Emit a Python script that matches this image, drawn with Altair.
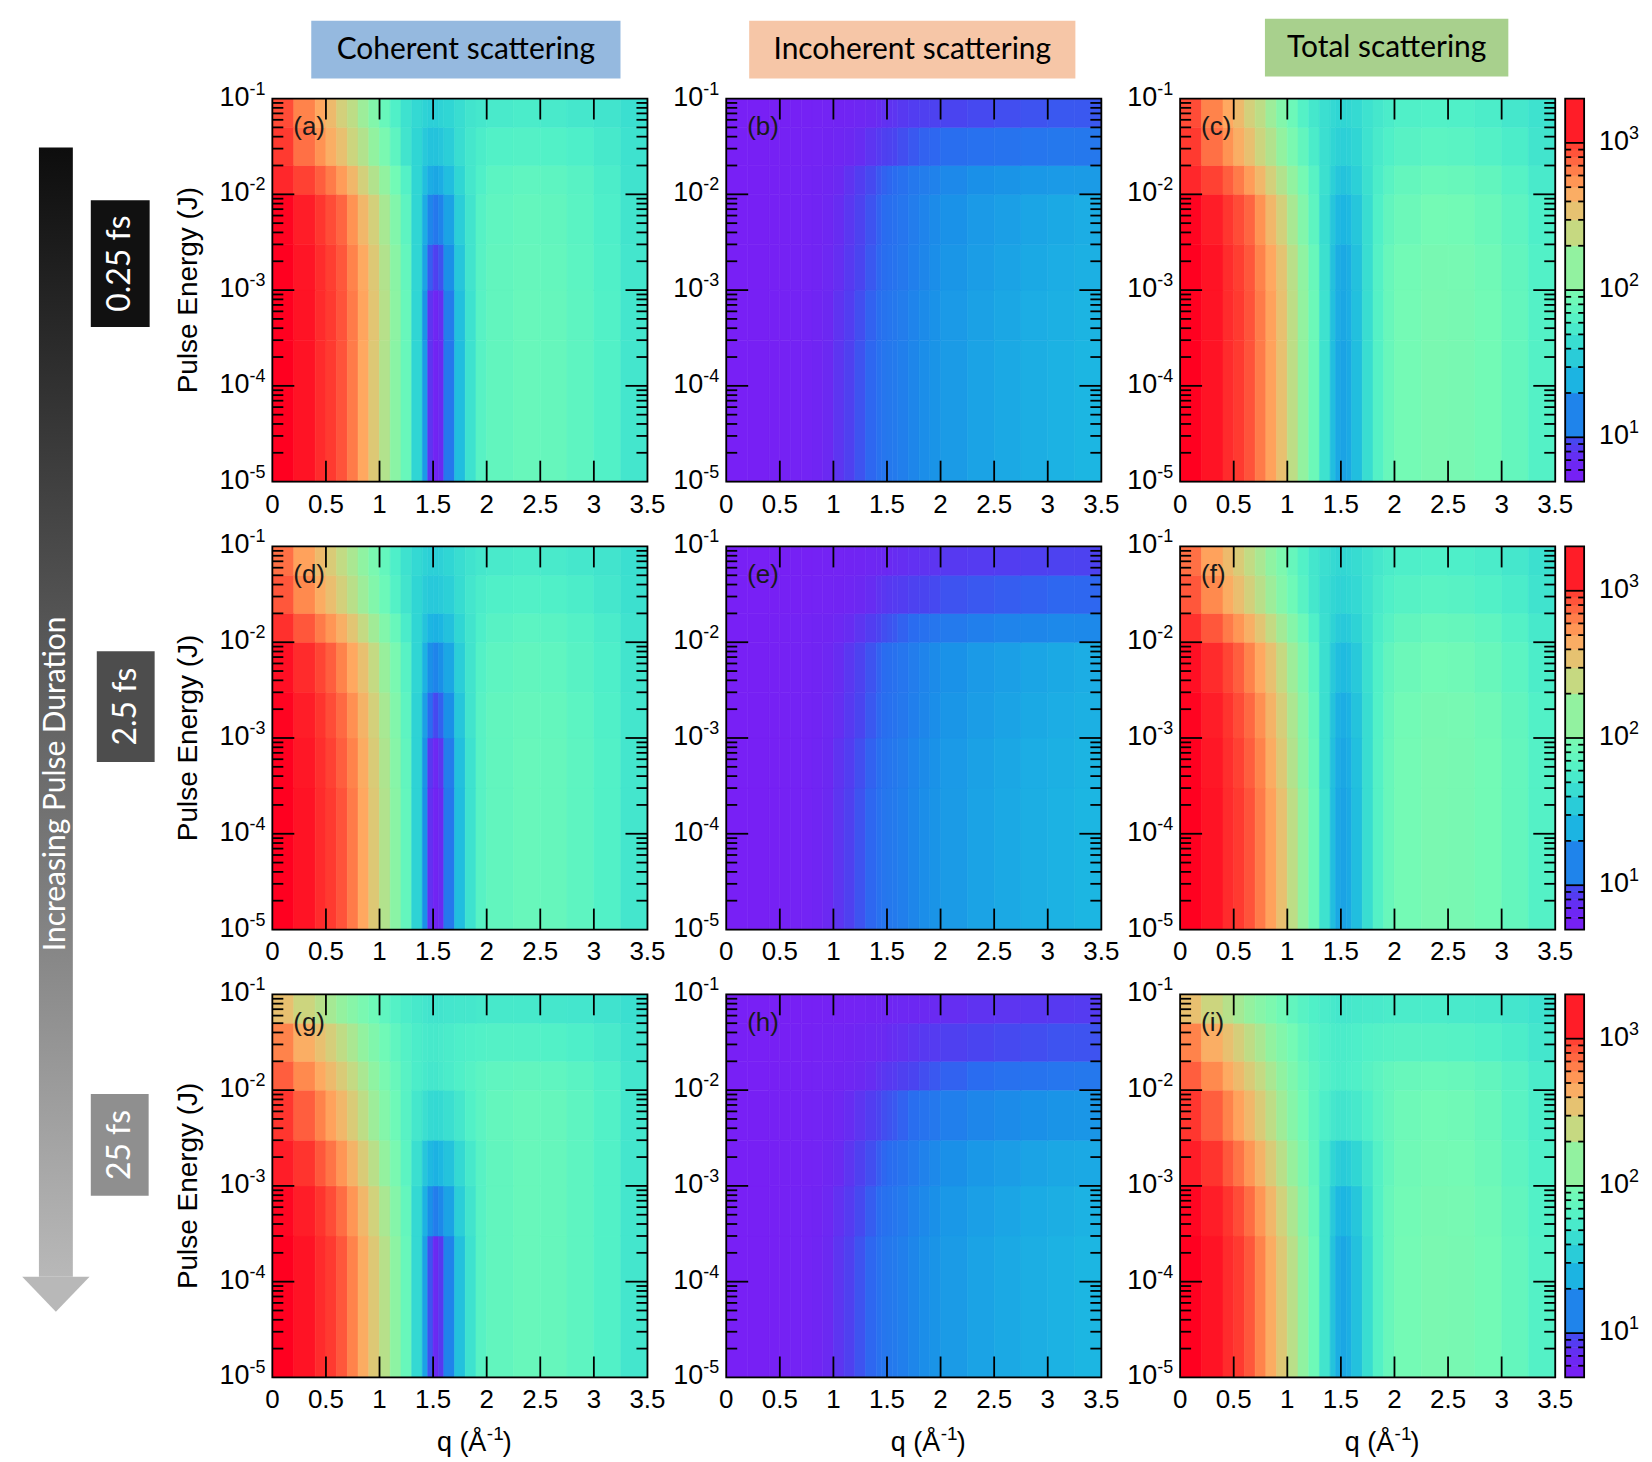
import altair as alt
import pandas as pd

# ---------------- data ----------------
# q cell edges (Å^-1) and pulse-energy band edges (J)
Q_EDGES = [0, 0.2, 0.4, 0.5, 0.6, 0.7, 0.8, 0.9, 1.0, 1.1, 1.2, 1.3, 1.4, 1.45, 1.5,
           1.55, 1.6, 1.7, 1.8, 1.9, 2.0, 2.25, 2.5, 2.75, 3.0, 3.25, 3.5]
E_EDGES = [1e-5, 3e-4, 1e-3, 3e-3, 1e-2, 2e-2, 5e-2, 1e-1]

# log10(intensity) per energy band (lowest band first), one value per q cell
A_ROWS = [
    [3.3, 3.2, 3.08, 3.0, 2.93, 2.82, 2.68, 2.5, 2.3, 2.1, 1.9, 1.6, 1.25, 0.9, 0.78, 0.85, 1.1, 1.45, 1.68, 1.82, 1.87, 1.9, 1.89, 1.85, 1.79, 1.71],
    [3.3, 3.2, 3.08, 3.0, 2.93, 2.82, 2.69, 2.52, 2.32, 2.12, 1.9, 1.6, 1.22, 0.9, 0.8, 0.87, 1.12, 1.46, 1.68, 1.82, 1.87, 1.9, 1.89, 1.85, 1.79, 1.71],
    [3.3, 3.19, 3.07, 2.99, 2.92, 2.8, 2.67, 2.5, 2.3, 2.1, 1.88, 1.6, 1.3, 1.02, 0.95, 1.0, 1.2, 1.5, 1.7, 1.82, 1.87, 1.89, 1.88, 1.84, 1.78, 1.71],
    [3.28, 3.15, 3.02, 2.95, 2.88, 2.75, 2.6, 2.45, 2.25, 2.05, 1.85, 1.6, 1.35, 1.16, 1.1, 1.15, 1.3, 1.55, 1.7, 1.81, 1.86, 1.88, 1.87, 1.83, 1.77, 1.7],
    [3.1, 2.98, 2.9, 2.82, 2.72, 2.6, 2.45, 2.3, 2.15, 1.95, 1.8, 1.6, 1.45, 1.35, 1.32, 1.35, 1.45, 1.6, 1.72, 1.78, 1.84, 1.86, 1.85, 1.82, 1.76, 1.69],
    [3.0, 2.85, 2.75, 2.65, 2.55, 2.42, 2.3, 2.15, 2.0, 1.85, 1.7, 1.6, 1.52, 1.48, 1.48, 1.5, 1.55, 1.65, 1.72, 1.76, 1.79, 1.8, 1.79, 1.77, 1.73, 1.68],
    [2.95, 2.8, 2.68, 2.58, 2.45, 2.35, 2.2, 2.05, 1.9, 1.78, 1.68, 1.62, 1.58, 1.56, 1.56, 1.58, 1.6, 1.65, 1.7, 1.72, 1.74, 1.75, 1.74, 1.72, 1.7, 1.66],
]
B_ROWS = [
    [0.72, 0.73, 0.74, 0.75, 0.76, 0.77, 0.79, 0.84, 0.9, 0.95, 1.0, 1.04, 1.07, 1.09, 1.1, 1.11, 1.13, 1.16, 1.19, 1.22, 1.26, 1.3, 1.33, 1.36, 1.38, 1.4],
    [0.72, 0.73, 0.74, 0.75, 0.76, 0.77, 0.79, 0.83, 0.89, 0.94, 0.99, 1.03, 1.06, 1.08, 1.09, 1.1, 1.12, 1.15, 1.18, 1.21, 1.25, 1.29, 1.32, 1.35, 1.37, 1.39],
    [0.72, 0.73, 0.74, 0.75, 0.76, 0.77, 0.78, 0.82, 0.87, 0.92, 0.97, 1.01, 1.04, 1.06, 1.07, 1.08, 1.1, 1.13, 1.16, 1.19, 1.23, 1.27, 1.3, 1.33, 1.35, 1.37],
    [0.72, 0.73, 0.74, 0.75, 0.76, 0.77, 0.78, 0.81, 0.86, 0.91, 0.96, 1.0, 1.03, 1.05, 1.06, 1.07, 1.09, 1.12, 1.15, 1.18, 1.21, 1.25, 1.28, 1.31, 1.33, 1.35],
    [0.72, 0.73, 0.74, 0.75, 0.76, 0.77, 0.78, 0.8, 0.84, 0.89, 0.94, 0.98, 1.01, 1.03, 1.04, 1.05, 1.07, 1.1, 1.12, 1.14, 1.17, 1.2, 1.22, 1.24, 1.25, 1.26],
    [0.72, 0.73, 0.74, 0.75, 0.75, 0.76, 0.77, 0.78, 0.8, 0.83, 0.86, 0.9, 0.93, 0.95, 0.96, 0.97, 0.99, 1.01, 1.03, 1.04, 1.06, 1.07, 1.08, 1.09, 1.1, 1.1],
    [0.72, 0.72, 0.73, 0.74, 0.74, 0.75, 0.76, 0.77, 0.78, 0.79, 0.81, 0.84, 0.86, 0.88, 0.89, 0.9, 0.92, 0.94, 0.95, 0.96, 0.97, 0.98, 0.99, 1.0, 1.01, 1.01],
]
C_ROWS = [
    [3.3, 3.2, 3.08, 3.0, 2.93, 2.82, 2.7, 2.55, 2.35, 2.15, 1.92, 1.68, 1.45, 1.33, 1.3, 1.33, 1.45, 1.65, 1.8, 1.9, 1.96, 2.0, 1.99, 1.95, 1.88, 1.8],
    [3.3, 3.2, 3.08, 3.0, 2.93, 2.82, 2.7, 2.55, 2.35, 2.15, 1.92, 1.68, 1.46, 1.35, 1.32, 1.35, 1.46, 1.65, 1.8, 1.9, 1.96, 2.0, 1.99, 1.95, 1.88, 1.8],
    [3.3, 3.2, 3.07, 2.99, 2.92, 2.8, 2.68, 2.53, 2.33, 2.13, 1.9, 1.67, 1.47, 1.36, 1.33, 1.36, 1.47, 1.65, 1.8, 1.9, 1.95, 1.99, 1.98, 1.94, 1.87, 1.79],
    [3.28, 3.15, 3.02, 2.95, 2.88, 2.75, 2.6, 2.45, 2.25, 2.05, 1.85, 1.65, 1.5, 1.42, 1.4, 1.42, 1.5, 1.65, 1.78, 1.87, 1.92, 1.96, 1.95, 1.91, 1.85, 1.77],
    [3.1, 2.98, 2.9, 2.82, 2.72, 2.6, 2.45, 2.3, 2.15, 1.97, 1.82, 1.67, 1.56, 1.5, 1.48, 1.5, 1.56, 1.67, 1.76, 1.83, 1.88, 1.91, 1.9, 1.87, 1.81, 1.74],
    [3.0, 2.85, 2.75, 2.65, 2.55, 2.42, 2.3, 2.15, 2.0, 1.87, 1.75, 1.66, 1.6, 1.57, 1.56, 1.57, 1.6, 1.68, 1.74, 1.78, 1.82, 1.84, 1.83, 1.8, 1.76, 1.7],
    [2.95, 2.8, 2.68, 2.58, 2.45, 2.35, 2.2, 2.05, 1.92, 1.8, 1.72, 1.66, 1.62, 1.6, 1.6, 1.61, 1.63, 1.68, 1.72, 1.75, 1.78, 1.79, 1.78, 1.76, 1.72, 1.68],
]
D_ROWS = [
    [3.3, 3.2, 3.08, 3.0, 2.93, 2.82, 2.68, 2.5, 2.3, 2.1, 1.88, 1.58, 1.2, 0.88, 0.78, 0.85, 1.1, 1.45, 1.68, 1.82, 1.87, 1.9, 1.89, 1.85, 1.79, 1.71],
    [3.3, 3.18, 3.06, 2.98, 2.9, 2.8, 2.66, 2.48, 2.28, 2.08, 1.87, 1.58, 1.22, 0.92, 0.82, 0.9, 1.12, 1.46, 1.68, 1.82, 1.87, 1.9, 1.89, 1.85, 1.79, 1.71],
    [3.28, 3.15, 3.03, 2.95, 2.87, 2.76, 2.62, 2.45, 2.25, 2.05, 1.85, 1.58, 1.28, 1.05, 0.98, 1.03, 1.2, 1.5, 1.7, 1.82, 1.87, 1.89, 1.88, 1.84, 1.78, 1.71],
    [3.22, 3.08, 2.97, 2.9, 2.8, 2.68, 2.55, 2.38, 2.18, 2.0, 1.82, 1.6, 1.38, 1.2, 1.15, 1.2, 1.32, 1.55, 1.7, 1.8, 1.85, 1.87, 1.86, 1.82, 1.77, 1.7],
    [3.05, 2.92, 2.82, 2.74, 2.64, 2.52, 2.38, 2.22, 2.05, 1.9, 1.75, 1.6, 1.48, 1.4, 1.38, 1.4, 1.47, 1.6, 1.7, 1.77, 1.82, 1.84, 1.83, 1.8, 1.75, 1.69],
    [2.92, 2.78, 2.66, 2.56, 2.45, 2.33, 2.2, 2.05, 1.92, 1.8, 1.7, 1.6, 1.54, 1.52, 1.52, 1.53, 1.56, 1.64, 1.71, 1.75, 1.78, 1.79, 1.78, 1.76, 1.72, 1.67],
    [2.85, 2.7, 2.58, 2.48, 2.37, 2.26, 2.13, 2.0, 1.88, 1.77, 1.68, 1.62, 1.58, 1.56, 1.56, 1.57, 1.6, 1.65, 1.69, 1.72, 1.74, 1.75, 1.74, 1.72, 1.7, 1.66],
]
E_ROWS = [
    [0.72, 0.73, 0.74, 0.75, 0.76, 0.77, 0.79, 0.84, 0.9, 0.95, 1.0, 1.04, 1.07, 1.09, 1.1, 1.11, 1.13, 1.16, 1.19, 1.22, 1.26, 1.3, 1.33, 1.36, 1.38, 1.4],
    [0.72, 0.73, 0.74, 0.75, 0.76, 0.77, 0.79, 0.83, 0.89, 0.94, 0.99, 1.03, 1.06, 1.08, 1.09, 1.1, 1.12, 1.15, 1.18, 1.21, 1.25, 1.29, 1.32, 1.35, 1.37, 1.39],
    [0.72, 0.73, 0.74, 0.75, 0.76, 0.77, 0.78, 0.82, 0.87, 0.92, 0.97, 1.01, 1.04, 1.06, 1.07, 1.08, 1.1, 1.13, 1.16, 1.19, 1.23, 1.27, 1.3, 1.33, 1.35, 1.37],
    [0.72, 0.73, 0.74, 0.75, 0.76, 0.77, 0.78, 0.81, 0.86, 0.91, 0.96, 1.0, 1.03, 1.05, 1.06, 1.07, 1.09, 1.12, 1.15, 1.18, 1.21, 1.25, 1.28, 1.31, 1.33, 1.35],
    [0.72, 0.73, 0.74, 0.75, 0.76, 0.77, 0.78, 0.79, 0.82, 0.86, 0.9, 0.94, 0.97, 0.99, 1.0, 1.01, 1.03, 1.05, 1.07, 1.09, 1.11, 1.13, 1.15, 1.16, 1.17, 1.17],
    [0.72, 0.72, 0.73, 0.74, 0.74, 0.75, 0.76, 0.77, 0.78, 0.8, 0.83, 0.86, 0.89, 0.91, 0.92, 0.93, 0.94, 0.96, 0.97, 0.98, 1.0, 1.01, 1.02, 1.03, 1.04, 1.04],
    [0.72, 0.72, 0.73, 0.73, 0.74, 0.74, 0.75, 0.76, 0.77, 0.78, 0.79, 0.81, 0.83, 0.84, 0.85, 0.86, 0.87, 0.88, 0.89, 0.9, 0.92, 0.93, 0.94, 0.95, 0.96, 0.96],
]
F_ROWS = [
    [3.3, 3.2, 3.08, 3.0, 2.93, 2.82, 2.7, 2.55, 2.35, 2.15, 1.92, 1.68, 1.45, 1.33, 1.3, 1.33, 1.45, 1.65, 1.8, 1.9, 1.96, 2.0, 1.99, 1.95, 1.88, 1.8],
    [3.3, 3.18, 3.06, 2.98, 2.9, 2.8, 2.66, 2.5, 2.3, 2.1, 1.9, 1.66, 1.46, 1.35, 1.32, 1.35, 1.46, 1.65, 1.8, 1.9, 1.96, 2.0, 1.99, 1.95, 1.88, 1.8],
    [3.28, 3.15, 3.03, 2.95, 2.87, 2.76, 2.62, 2.46, 2.27, 2.08, 1.88, 1.66, 1.48, 1.38, 1.35, 1.38, 1.48, 1.65, 1.79, 1.89, 1.95, 1.99, 1.98, 1.94, 1.87, 1.79],
    [3.22, 3.08, 2.97, 2.9, 2.8, 2.68, 2.55, 2.39, 2.2, 2.02, 1.84, 1.66, 1.52, 1.45, 1.43, 1.45, 1.52, 1.66, 1.78, 1.87, 1.92, 1.95, 1.94, 1.9, 1.84, 1.76],
    [3.05, 2.92, 2.82, 2.74, 2.64, 2.52, 2.38, 2.23, 2.07, 1.92, 1.78, 1.66, 1.58, 1.53, 1.52, 1.53, 1.58, 1.67, 1.76, 1.82, 1.87, 1.9, 1.89, 1.86, 1.8, 1.73],
    [2.92, 2.78, 2.66, 2.56, 2.45, 2.33, 2.2, 2.06, 1.93, 1.82, 1.72, 1.65, 1.61, 1.59, 1.59, 1.6, 1.62, 1.68, 1.74, 1.78, 1.81, 1.83, 1.82, 1.79, 1.75, 1.69],
    [2.85, 2.7, 2.58, 2.48, 2.37, 2.26, 2.13, 2.01, 1.89, 1.79, 1.71, 1.66, 1.63, 1.61, 1.61, 1.62, 1.64, 1.68, 1.72, 1.75, 1.77, 1.78, 1.77, 1.75, 1.72, 1.67],
]
G_ROWS = [
    [3.3, 3.2, 3.08, 3.0, 2.92, 2.8, 2.66, 2.5, 2.32, 2.12, 1.9, 1.62, 1.3, 1.0, 0.85, 0.92, 1.15, 1.47, 1.68, 1.82, 1.87, 1.9, 1.89, 1.85, 1.79, 1.71],
    [3.27, 3.15, 3.03, 2.95, 2.86, 2.74, 2.6, 2.44, 2.26, 2.07, 1.88, 1.62, 1.38, 1.2, 1.12, 1.17, 1.3, 1.55, 1.7, 1.82, 1.87, 1.9, 1.89, 1.85, 1.79, 1.71],
    [3.15, 3.03, 2.92, 2.84, 2.74, 2.62, 2.48, 2.33, 2.16, 2.0, 1.84, 1.66, 1.5, 1.42, 1.38, 1.41, 1.48, 1.62, 1.73, 1.82, 1.87, 1.9, 1.89, 1.85, 1.79, 1.71],
    [3.02, 2.9, 2.8, 2.7, 2.6, 2.48, 2.35, 2.2, 2.06, 1.93, 1.82, 1.72, 1.66, 1.63, 1.62, 1.63, 1.66, 1.72, 1.79, 1.84, 1.88, 1.9, 1.89, 1.85, 1.79, 1.71],
    [2.9, 2.78, 2.67, 2.58, 2.48, 2.38, 2.26, 2.13, 2.0, 1.9, 1.82, 1.76, 1.73, 1.72, 1.72, 1.73, 1.75, 1.78, 1.81, 1.84, 1.86, 1.87, 1.86, 1.83, 1.78, 1.71],
    [2.8, 2.65, 2.55, 2.46, 2.36, 2.26, 2.15, 2.04, 1.94, 1.86, 1.8, 1.76, 1.74, 1.73, 1.73, 1.74, 1.75, 1.77, 1.78, 1.79, 1.8, 1.8, 1.79, 1.77, 1.74, 1.69],
    [2.55, 2.42, 2.32, 2.24, 2.16, 2.08, 2.0, 1.93, 1.86, 1.8, 1.76, 1.73, 1.71, 1.7, 1.7, 1.7, 1.71, 1.72, 1.72, 1.73, 1.73, 1.73, 1.72, 1.71, 1.69, 1.66],
]
H_ROWS = [
    [0.72, 0.73, 0.74, 0.75, 0.76, 0.77, 0.79, 0.84, 0.9, 0.95, 1.0, 1.04, 1.07, 1.09, 1.1, 1.11, 1.13, 1.16, 1.19, 1.22, 1.26, 1.3, 1.33, 1.36, 1.38, 1.4],
    [0.72, 0.73, 0.74, 0.75, 0.76, 0.77, 0.78, 0.82, 0.88, 0.93, 0.98, 1.02, 1.05, 1.07, 1.08, 1.09, 1.11, 1.14, 1.17, 1.2, 1.24, 1.28, 1.31, 1.34, 1.36, 1.38],
    [0.72, 0.73, 0.74, 0.75, 0.75, 0.76, 0.77, 0.8, 0.85, 0.9, 0.95, 0.99, 1.02, 1.04, 1.05, 1.06, 1.08, 1.11, 1.14, 1.17, 1.2, 1.24, 1.27, 1.3, 1.32, 1.33],
    [0.72, 0.73, 0.74, 0.74, 0.75, 0.76, 0.77, 0.78, 0.81, 0.86, 0.9, 0.94, 0.97, 0.99, 1.0, 1.01, 1.03, 1.06, 1.08, 1.1, 1.13, 1.16, 1.18, 1.2, 1.22, 1.23],
    [0.72, 0.72, 0.73, 0.74, 0.74, 0.75, 0.76, 0.77, 0.78, 0.8, 0.83, 0.86, 0.89, 0.91, 0.92, 0.93, 0.95, 0.97, 0.99, 1.01, 1.03, 1.05, 1.07, 1.08, 1.09, 1.1],
    [0.72, 0.72, 0.73, 0.73, 0.74, 0.74, 0.75, 0.76, 0.77, 0.78, 0.8, 0.82, 0.84, 0.85, 0.86, 0.87, 0.88, 0.9, 0.92, 0.93, 0.95, 0.97, 0.98, 0.99, 1.0, 1.0],
    [0.72, 0.72, 0.72, 0.73, 0.73, 0.74, 0.74, 0.75, 0.75, 0.76, 0.77, 0.78, 0.79, 0.8, 0.8, 0.81, 0.82, 0.83, 0.84, 0.85, 0.87, 0.89, 0.9, 0.91, 0.92, 0.93],
]
I_ROWS = [
    [3.3, 3.2, 3.08, 3.0, 2.92, 2.8, 2.66, 2.5, 2.33, 2.14, 1.93, 1.7, 1.48, 1.36, 1.32, 1.36, 1.47, 1.65, 1.8, 1.9, 1.96, 2.0, 1.99, 1.95, 1.88, 1.8],
    [3.27, 3.15, 3.03, 2.95, 2.86, 2.74, 2.6, 2.44, 2.27, 2.09, 1.9, 1.7, 1.52, 1.42, 1.4, 1.42, 1.5, 1.67, 1.8, 1.9, 1.95, 1.99, 1.98, 1.94, 1.87, 1.79],
    [3.15, 3.03, 2.92, 2.84, 2.74, 2.62, 2.48, 2.33, 2.17, 2.02, 1.87, 1.72, 1.6, 1.55, 1.53, 1.55, 1.6, 1.7, 1.8, 1.88, 1.94, 1.97, 1.96, 1.92, 1.85, 1.78],
    [3.02, 2.9, 2.8, 2.7, 2.6, 2.48, 2.35, 2.21, 2.07, 1.95, 1.85, 1.77, 1.72, 1.7, 1.7, 1.71, 1.73, 1.78, 1.84, 1.89, 1.93, 1.95, 1.94, 1.9, 1.83, 1.76],
    [2.9, 2.78, 2.67, 2.58, 2.48, 2.38, 2.26, 2.14, 2.02, 1.92, 1.85, 1.8, 1.77, 1.76, 1.76, 1.77, 1.78, 1.82, 1.85, 1.88, 1.9, 1.91, 1.9, 1.87, 1.82, 1.75],
    [2.8, 2.65, 2.55, 2.46, 2.36, 2.26, 2.15, 2.05, 1.96, 1.88, 1.82, 1.78, 1.76, 1.75, 1.75, 1.76, 1.77, 1.79, 1.8, 1.81, 1.82, 1.82, 1.81, 1.79, 1.76, 1.71],
    [2.55, 2.42, 2.32, 2.24, 2.16, 2.08, 2.01, 1.94, 1.87, 1.82, 1.78, 1.75, 1.73, 1.72, 1.72, 1.72, 1.73, 1.74, 1.74, 1.75, 1.75, 1.75, 1.74, 1.73, 1.71, 1.68],
]

# axes / tick values
Q_TICKS = [0.5, 1.0, 1.5, 2.0, 2.5, 3.0]
Q_LABELS = [0, 0.5, 1, 1.5, 2, 2.5, 3, 3.5]
Q_LABEL_TEXT = ["0", "0.5", "1", "1.5", "2", "2.5", "3", "3.5"]
E_MAJOR = [1e-4, 1e-3, 1e-2]
E_MINOR = [2e-5, 3e-5, 4e-5, 5e-5, 6e-5, 7e-5, 8e-5, 9e-5,
           2e-4, 3e-4, 4e-4, 5e-4, 6e-4, 7e-4, 8e-4, 9e-4,
           2e-3, 3e-3, 4e-3, 5e-3, 6e-3, 7e-3, 8e-3, 9e-3,
           2e-2, 3e-2, 4e-2, 5e-2, 6e-2, 7e-2, 8e-2, 9e-2]
E_LABELS = [1e-5, 1e-4, 1e-3, 1e-2, 1e-1]
E_EXPS = ["-5", "-4", "-3", "-2", "-1"]
CB_EDGES = [5, 6, 7, 8, 9, 10, 20, 30, 40, 50, 60, 70, 80, 90, 100,
            200, 300, 400, 500, 600, 700, 800, 900, 1000, 2000]
CB_MAJOR = [10, 100, 1000]
CB_EXPS = ["1", "2", "3"]
CB_MINOR = [6, 7, 8, 9, 20, 30, 40, 50, 60, 70, 80, 90,
            200, 300, 400, 500, 600, 700, 800, 900]

# colour map (log10 intensity -> colour)
C_DOM = [0.7, 0.85, 0.97, 1.05, 1.2, 1.4, 1.6, 1.78, 1.95, 2.15, 2.4, 2.55, 2.68, 2.78, 2.9, 3.0, 3.3]
C_RNG = ["#7a1ef5", "#6a2af2", "#4a44f0", "#2a6cf0", "#1a90e8", "#1cb6e2", "#30d6d4", "#50f0c8",
         "#72fab6", "#92f2a0", "#c8d880", "#e8c070", "#ffa860", "#ff8a4e", "#ff5e3e", "#ff3a30", "#ff0020"]

# ---------------- chart construction ----------------
FONT = "Liberation Sans"
SANS2 = "Lato"
W, H = 376, 384
xs = alt.Scale(domain=[0, 3.5], nice=False, zero=False)
ys = alt.Scale(type="log", domain=[1e-5, 1e-1], nice=False)
cbs = alt.Scale(type="log", domain=[5, 2000], nice=False)
cs = alt.Scale(domain=C_DOM, range=C_RNG, clamp=True, interpolate="rgb")
ONE = pd.DataFrame({"k": [0]})


def heat_df(rows):
    assert len(rows) == len(E_EDGES) - 1
    recs = []
    for i, row in enumerate(rows):
        assert len(row) == len(Q_EDGES) - 1
        for j, v in enumerate(row):
            recs.append({"q0": Q_EDGES[j], "q1": Q_EDGES[j + 1],
                         "e0": E_EDGES[i], "e1": E_EDGES[i + 1], "v": v})
    return pd.DataFrame(recs)


def txt(text, x, y, size, color="black", font=FONT, align="center", angle=0, baseline="middle"):
    props = dict(text=text, fontSize=size, font=font, color=color, align=align, baseline=baseline)
    if angle:
        props["angle"] = angle
    return alt.Chart(ONE).mark_text(**props).encode(x=alt.value(x), y=alt.value(y))


def box(x0, x1, y0, y1, fill):
    return alt.Chart(ONE).mark_rect(color=fill).encode(
        x=alt.value(x0), x2=alt.value(x1), y=alt.value(y0), y2=alt.value(y1))


def frame(x0, x1, y0, y1):
    return alt.Chart(ONE).mark_rect(fillOpacity=0, stroke="black", strokeWidth=1.8).encode(
        x=alt.value(x0), x2=alt.value(x1), y=alt.value(y0), y2=alt.value(y1))


def yrule(vals, x0, x1, scale):
    return alt.Chart(pd.DataFrame({"e": vals})).mark_rule(color="black", strokeWidth=1.8).encode(
        y=alt.Y("e:Q", scale=scale, axis=None), x=alt.value(x0), x2=alt.value(x1))


def xrule(vals, y0, y1):
    return alt.Chart(pd.DataFrame({"q": vals})).mark_rule(color="black", strokeWidth=1.8).encode(
        x=alt.X("q:Q", scale=xs, axis=None), y=alt.value(y0), y2=alt.value(y1))


def log_labels(vals, exps, scale, x_ten, align_ten, x_sup):
    d = pd.DataFrame({"e": vals, "exp": exps})
    ten = alt.Chart(d).mark_text(text="10", align=align_ten, baseline="alphabetic", dy=7,
                                 font=FONT, fontSize=27, color="black").encode(
        y=alt.Y("e:Q", scale=scale, axis=None), x=alt.value(x_ten))
    sup = alt.Chart(d).mark_text(align="left", baseline="alphabetic", dy=-4,
                                 font=FONT, fontSize=18, color="black").encode(
        y=alt.Y("e:Q", scale=scale, axis=None), x=alt.value(x_sup), text="exp:N")
    return [ten, sup]


def panel(rows, letter, bottom=False, left=False, colorbar=False, header=None, deco=False):
    heat = alt.Chart(heat_df(rows)).mark_rect(strokeWidth=0.6).encode(
        x=alt.X("q0:Q", scale=xs, axis=None), x2="q1:Q",
        y=alt.Y("e0:Q", scale=ys, axis=None), y2="e1:Q",
        color=alt.Color("v:Q", scale=cs, legend=None),
        stroke=alt.Stroke("v:Q", scale=cs, legend=None))
    xlab = alt.Chart(pd.DataFrame({"q": Q_LABELS, "lab": Q_LABEL_TEXT})).mark_text(
        baseline="alphabetic", font=FONT, fontSize=26, color="black").encode(
        x=alt.X("q:Q", scale=xs, axis=None), y=alt.value(H + 31), text="lab:N")
    layers = [heat,
              xrule(Q_TICKS, H, H - 21), xrule(Q_TICKS, 0, 21),
              yrule(E_MAJOR, 0, 22, ys), yrule(E_MINOR, 0, 11, ys),
              yrule(E_MAJOR, W, W - 22, ys), yrule(E_MINOR, W, W - 11, ys),
              frame(0, W, 0, H),
              txt(letter, 21, 29, 26, color="#1a1a1a", align="left"),
              xlab]
    layers += log_labels(E_LABELS, E_EXPS, ys, -23, "right", -23)
    if bottom:
        layers += [txt("q (Å", 214.5, H + 74, 27, align="right", baseline="alphabetic"),
                   txt("-1", 215, H + 63, 19, align="left", baseline="alphabetic"),
                   txt(")", 231, H + 74, 27, align="left", baseline="alphabetic")]
    if left:
        layers.append(txt("Pulse Energy (J)", -84, H / 2, 28, angle=270))
    if header:
        label, x0, x1, y0, y1, fill = header
        layers += [box(x0, x1, y0, y1, fill),
                   txt(label, (x0 + x1) / 2, (y0 + y1) / 2, 30, font=SANS2)]
    if colorbar:
        cbdf = pd.DataFrame({"lo": CB_EDGES[:-1], "hi": CB_EDGES[1:]})
        cbar = alt.Chart(cbdf).transform_calculate(
            m="log(sqrt(datum.lo*datum.hi))/LN10").mark_rect(strokeWidth=0.6).encode(
            y=alt.Y("lo:Q", scale=cbs, axis=None), y2="hi:Q",
            x=alt.value(W + 10), x2=alt.value(W + 29),
            color=alt.Color("m:Q", scale=cs, legend=None),
            stroke=alt.Stroke("m:Q", scale=cs, legend=None))
        layers += [cbar,
                   yrule(CB_MINOR, W + 10, W + 16, cbs), yrule(CB_MINOR, W + 23, W + 29, cbs),
                   yrule(CB_MAJOR, W + 10, W + 29, cbs),
                   frame(W + 10, W + 29, 0, H)]
        layers += log_labels(CB_MAJOR, CB_EXPS, cbs, W + 44, "left", W + 74)
    if deco:
        shaft = alt.Chart(ONE).mark_rect(fill=alt.Gradient(
            gradient="linear",
            stops=[alt.GradientStop(color="#0d0d0d", offset=0),
                   alt.GradientStop(color="#b8b8b8", offset=1)],
            x1=0, x2=0, y1=0, y2=1)).encode(
            x=alt.value(-234), x2=alt.value(-200), y=alt.value(49), y2=alt.value(1181))
        head = alt.Chart(ONE).mark_point(shape="M-1,-0.52L1,-0.52L0,0.52Z", size=4556,
                                         filled=True, color="#b8b8b8", opacity=1,
                                         strokeWidth=0).encode(
            x=alt.value(-217), y=alt.value(1198.5))
        layers += [shaft, head,
                   txt("Increasing Pulse Duration", -217, 687, 30, color="white",
                       font=SANS2, angle=270),
                   box(-182, -123, 102, 229, "#111111"),
                   txt("0.25 fs", -152.5, 165.5, 32, color="white", font=SANS2, angle=270),
                   box(-176, -118, 554, 665, "#4d4d4d"),
                   txt("2.5 fs", -147, 609.5, 32, color="white", font=SANS2, angle=270),
                   box(-182, -124, 998, 1100, "#8f8f8f"),
                   txt("25 fs", -153, 1049, 32, color="white", font=SANS2, angle=270)]
    ch = alt.layer(*layers).properties(width=W, height=H)
    if colorbar:
        ch = ch.resolve_scale(y="independent")
    return ch


panels = [
    panel(A_ROWS, "(a)", left=True, deco=True,
          header=("Coherent scattering", 39, 349, -78, -20, "#95b9df")),
    panel(B_ROWS, "(b)",
          header=("Incoherent scattering", 23, 350, -78, -20, "#f6c6a7")),
    panel(C_ROWS, "(c)", colorbar=True,
          header=("Total scattering", 85, 329, -80, -22, "#a8d08d")),
    panel(D_ROWS, "(d)", left=True),
    panel(E_ROWS, "(e)"),
    panel(F_ROWS, "(f)", colorbar=True),
    panel(G_ROWS, "(g)", left=True, bottom=True),
    panel(H_ROWS, "(h)", bottom=True),
    panel(I_ROWS, "(i)", colorbar=True, bottom=True),
]

chart = alt.concat(*panels, columns=3, spacing={"row": 65, "column": 79}, bounds="flush").properties(
    padding={"left": 13, "top": 8, "right": 4, "bottom": 4}
).configure_view(stroke="transparent").configure(background="white")

chart.save("out.html", embed_options={"renderer": "svg", "actions": False})
